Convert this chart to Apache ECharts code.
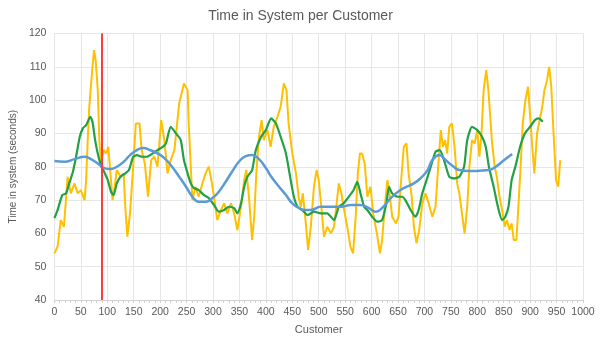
<!DOCTYPE html>
<html><head><meta charset="utf-8">
<script src="https://cdn.jsdelivr.net/npm/echarts@6/dist/echarts.min.js"></script>
<style>html,body{margin:0;padding:0;background:#fff}#c{width:601px;height:346px}</style>
</head><body><div id="c"></div>
<script>
const titleText = 'Time in System per Customer';
const xName = 'Customer';
const yName = 'Time in system (seconds)';
const markerX = 90;

const yellowX = [0,6,12,18,25,31,38,44,50,57,60,63,66,72,75,78,82,85,88,93,98,102,106,110,114,118,125,131,134,138,143,149,154,161,165,171,177,183,189,195,202,208,214,220,227,236,245,252,254,258,261,267,273,280,286,292,297,302,308,315,321,327,334,340,346,353,359,363,368,374,378,382,387,392,396,403,409,415,422,428,434,439,443,450,457,462,466,470,475,480,485,491,496,500,505,510,516,523,529,534,538,543,547,554,560,565,570,574,578,582,587,592,598,603,610,616,620,625,630,634,639,646,651,655,661,666,670,676,680,685,690,696,702,708,715,721,726,731,735,739,743,747,752,757,762,766,771,776,781,785,790,795,800,804,808,812,817,821,825,828,833,837,842,847,852,856,861,865,869,874,877,882,886,891,896,901,904,908,913,918,923,927,932,936,940,944,949,953,957];
const yellowY = [54,56,64,62,77,72,75,72,73,70,76,88,98,110,115,112,103,88,81,85,84,86,78,70,74,79,77,78,68,59,66,80,93,93,85,81,71,82,83,80,94,88,78,82,85,99,105,103,93,80,70,74,71,75,78,80,76,71,64,67,69,66,69,66,61,68,76,79,71,58,65,78,89,94,88,91,86,92,95,98,105,103,93,84,78,71,68,72,64,55,62,74,79,76,68,59,62,60,62,69,75,72,68,62,56,54,65,78,84,84,81,71,74,66,60,54,58,68,76,72,65,63,65,74,86,87,78,71,62,57,61,69,72,69,65,68,80,91,86,88,84,92,93,86,75,72,66,60,68,80,88,87,91,83,90,103,109,103,94,87,80,77,71,67,62,64,61,63,58,58,66,80,93,100,104,93,86,78,90,94,98,103,106,110,104,91,76,74,82];

const greenX = [0,6,15,22,28,35,41,48,54,60,68,72,77,82,88,94,101,107,112,118,125,134,141,149,156,166,175,186,195,205,211,220,230,239,245,252,258,264,273,283,292,302,311,321,330,340,346,353,359,365,374,381,391,400,410,419,428,438,447,453,460,469,479,491,504,516,529,538,547,557,566,573,579,586,592,601,611,620,628,633,639,649,658,664,674,683,689,696,704,712,721,729,737,747,756,766,775,781,790,800,809,816,822,831,839,847,853,859,865,872,881,890,900,909,916,924];
const greenY = [64.6,67,71.5,72,75,78.5,83,89,91.6,92.5,95,93.5,88,84,80.5,78.5,76,72.5,71.5,75,77,78,79,83,83.5,83,83,84,85,86,87,92,90,88,82,78,75,73.6,73,71.5,70.6,68.5,66.5,67,68,67.6,66,69,74,77,79,85,89,91,94.5,93,89,84,76,71,68,67,65.5,66.5,66,66,64,68,69,71,73,75.5,72,68,67,65,63.5,64,69,74,72,71,71,70,67,65,67,72,76,80,84.5,85,82,77,76.5,77,80,88,92,91,89,86,80,74,68,64,65,68,76,80,86,90,92,94,94.5,93.5];

const blueX = [0,19,38,57,69,82,94,107,118,131,143,156,168,181,195,208,220,236,249,261,273,286,299,311,324,336,349,362,374,387,400,412,425,438,450,463,475,485,504,523,542,561,579,595,608,620,633,646,661,680,693,706,715,728,740,753,766,785,804,822,835,851,866];
const blueY = [81.7,81.5,82.3,83,82.3,81,79.6,79.3,80,81.5,83.5,85,85.6,85,84,82.6,80.5,77,74,71,69.5,69.5,70.6,72.5,75.5,78.5,81.5,83.2,83.5,82.3,79.6,76.6,74,71.5,69,67.6,67,67,68,68,68,68.5,68.5,67.6,66.5,67.6,70,72,73.6,75,76.6,79,82,83.5,82,80.3,79,78.7,78.8,79,80,82,83.8];

const pairs = (xs, ys) => xs.map((x, i) => [x, ys[i]]);
const txt = '#595959';
const font = 'Liberation Sans';

const chart = echarts.init(document.getElementById('c'), null, {renderer: 'canvas'});
chart.setOption({
  animation: false,
  backgroundColor: '#fff',
  title: {text: titleText, left: 'center', top: 4,
    textStyle: {fontFamily: font, fontSize: 14, fontWeight: 'normal', color: txt}},
  grid: {left: 53.5, right: 18, top: 33.5, bottom: 46},
  xAxis: {
    type: 'value', min: 0, max: 1000, interval: 50,
    name: xName, nameLocation: 'middle', nameGap: 24,
    nameTextStyle: {fontFamily: font, fontSize: 11, color: txt},
    axisLine: {show: true, lineStyle: {color: '#d0d0d0'}},
    axisTick: {show: true, length: 3, lineStyle: {color: '#d0d0d0'}},
    minorTick: {show: true, splitNumber: 5, length: 3, lineStyle: {color: '#d0d0d0'}},
    axisLabel: {fontFamily: font, fontSize: 10.5, color: txt, margin: 7,
      formatter: v => String(v)},
    splitLine: {show: true, lineStyle: {color: '#e6e6e6'}}
  },
  yAxis: {
    type: 'value', min: 40, max: 120, interval: 10,
    name: yName, nameLocation: 'middle', nameGap: 32,
    nameTextStyle: {fontFamily: font, fontSize: 10, color: txt},
    axisLine: {show: false}, axisTick: {show: false},
    axisLabel: {fontFamily: font, fontSize: 10.5, color: txt, margin: 8},
    splitLine: {show: true, lineStyle: {color: '#e6e6e6'}}
  },
  series: [
    {type: 'line', data: pairs(yellowX, yellowY), showSymbol: false, z: 2,
      lineStyle: {color: '#ffc000', width: 2}, itemStyle: {color: '#ffc000'},
      markLine: {silent: true, symbol: 'none', label: {show: false}, z: 10,
        lineStyle: {color: '#ff3b3b', width: 2, type: 'solid'},
        data: [{xAxis: markerX}]}},
    {type: 'line', data: pairs(greenX, greenY), showSymbol: false, z: 3, smooth: 0.2,
      lineStyle: {color: '#22a046', width: 2.2}, itemStyle: {color: '#22a046'}},
    {type: 'line', data: pairs(blueX, blueY), showSymbol: false, z: 4, smooth: true,
      lineStyle: {color: '#5b9bd5', width: 2.5}, itemStyle: {color: '#5b9bd5'}}
  ]
});
</script></body></html>
